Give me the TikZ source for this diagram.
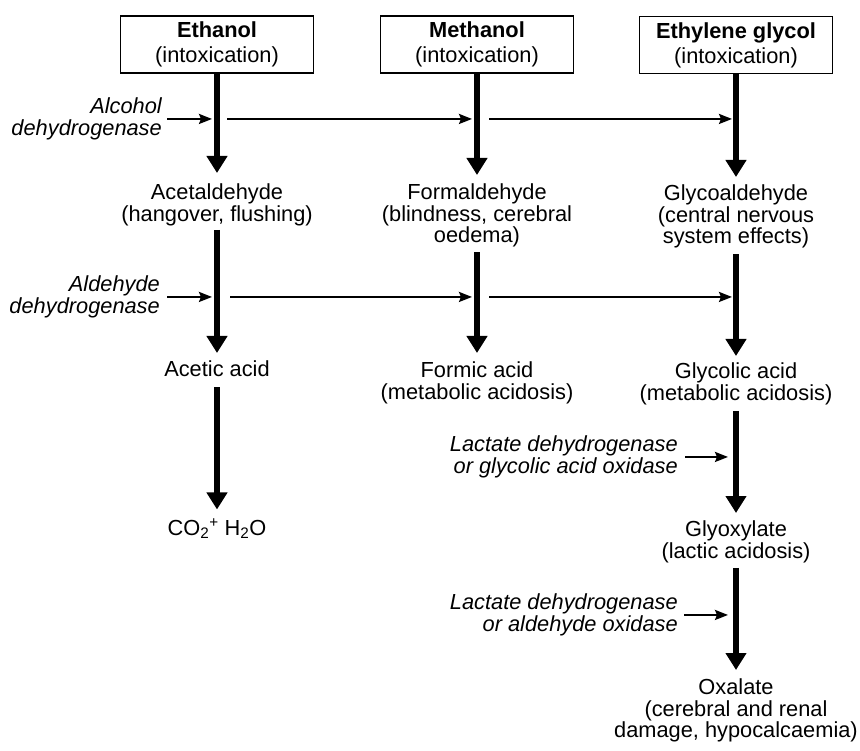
\documentclass[tikz,border=0pt]{standalone}
\usepackage{fontspec}
\setmainfont{Liberation Sans}
\usetikzlibrary{arrows.meta}
\newcommand{\chartsize}{\fontsize{21.8}{21.2}\selectfont}
\tikzset{
    poison box/.style={draw, line width=1.2pt, minimum width=193pt, minimum height=57pt, align=center, inner sep=0pt},
    product/.style={align=center, inner sep=0pt, anchor=north},
    enzyme/.style={align=right, inner sep=0pt, anchor=north east, font=\chartsize\itshape},
    flow/.style={line width=6pt, -{Triangle[length=17pt,width=20pt]}, shorten <=5pt, shorten >=10pt},
    enzyme arrow/.style={line width=2.2pt, -{Stealth[length=13pt,width=10pt,inset=2pt]}, shorten <=5pt, shorten >=5pt},
}
\begin{document}
\begin{tikzpicture}[x=1pt, y=-1pt, font=\chartsize]
        \useasboundingbox (0,0) rectangle (860,751);
        %draw poisons
        \node[poison box] (ethanol) at (217,44.5) {\textbf{Ethanol}\\[4pt](intoxication)};
        \node[poison box] (methanol) at (477,44.5) {\textbf{Methanol}\\[4pt](intoxication)};
        \node[poison box] (glycol) at (736,45) {\textbf{Ethylene glycol}\\[4pt](intoxication)};
        %draw products
        \node[product] (acetald) at (217,184) {Acetaldehyde\\(hangover, flushing)};
        \node[product] (formald) at (477,184) {Formaldehyde\\(blindness, cerebral\\oedema)};
        \node[product] (glycoald) at (736,185) {Glycoaldehyde\\(central nervous\\system effects)};
        \node[product] (acetic) at (217,361) {Acetic acid};
        \node[product] (formic) at (477,362) {Formic acid\\(metabolic acidosis)};
        \node[product] (glycolic) at (736,363) {Glycolic acid\\(metabolic acidosis)};
        \node[product, anchor=base] (cotwo) at (217,535) {CO\textsubscript{2}\textsuperscript{+} H\textsubscript{2}O};
        \node[product] (glyoxyl) at (736,521) {Glyoxylate\\(lactic acidosis)};
        \node[product] (oxal) at (736,679) {Oxalate\\(cerebral and renal\\damage, hypocalcaemia)};
        %draw enzymes
        \node[enzyme] (alcdh) at (162,98) {Alcohol\\dehydrogenase};
        \node[enzyme] (aldh) at (160,276) {Aldehyde\\dehydrogenase};
        \node[enzyme] (ldhone) at (678,436) {Lactate dehydrogenase\\or glycolic acid oxidase};
        \node[enzyme] (ldhtwo) at (678,594) {Lactate dehydrogenase\\or aldehyde oxidase};
        \coordinate (e1) at (alcdh -| ethanol);
        \coordinate (m1) at (alcdh -| methanol);
        \coordinate (g1) at (alcdh -| glycol);
        \coordinate (e2) at (aldh -| ethanol);
        \coordinate (m2) at (aldh -| methanol);
        \coordinate (g2) at (aldh -| glycol);
        \coordinate (g3) at (ldhone -| glycol);
        \coordinate (g4) at (ldhtwo -| glycol);
        %draw metabolic steps
        \draw[flow, shorten <=0pt, shorten >=11pt] (ethanol) -- (acetald);
        \draw[flow, shorten <=4pt, shorten >=8pt] (acetald) -- (acetic);
        \draw[flow, shorten <=10pt, shorten >=9pt] (acetic) -- (cotwo);
        \draw[flow, shorten <=0pt, shorten >=9pt] (methanol) -- (formald);
        \draw[flow, shorten >=9pt] (formald) -- (formic);
        \draw[flow, shorten <=0pt, shorten >=8pt] (glycol) -- (glycoald);
        \draw[flow, shorten <=6pt, shorten >=7pt] (glycoald) -- (glycolic);
        \draw[flow, shorten <=6pt, shorten >=8pt] (glycolic) -- (glyoxyl);
        \draw[flow, shorten >=9pt] (glyoxyl) -- (oxal);
        %draw enzyme arrows
        \draw[enzyme arrow] (alcdh) -- (e1);
        \draw[enzyme arrow, shorten <=10pt] (e1) -- (m1);
        \draw[enzyme arrow, shorten <=12pt, shorten >=4pt] (m1) -- (g1);
        \draw[enzyme arrow, shorten <=7pt] (aldh) -- (e2);
        \draw[enzyme arrow, shorten <=13pt] (e2) -- (m2);
        \draw[enzyme arrow, shorten <=12pt, shorten >=4pt] (m2) -- (g2);
        \draw[enzyme arrow, shorten <=7pt, shorten >=8pt] (ldhone) -- (g3);
        \draw[enzyme arrow, shorten <=6pt, shorten >=8pt] (ldhtwo) -- (g4);
    \end{tikzpicture}
\end{document}
